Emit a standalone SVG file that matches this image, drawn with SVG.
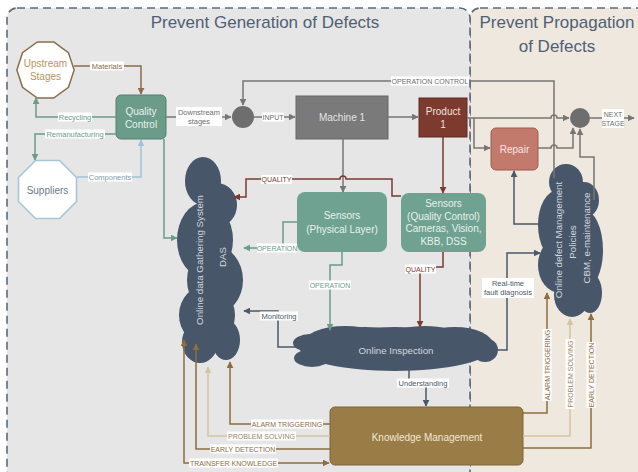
<svg xmlns="http://www.w3.org/2000/svg" width="638" height="472" viewBox="0 0 638 472">
  <style>
    text{font-family:"Liberation Sans",Arial,sans-serif}
    .title{font-size:17px;fill:#4e6074;text-anchor:middle}
    .nt{font-size:10px;text-anchor:middle;dominant-baseline:central}
    .ct{font-size:9.7px;fill:#d3d8de;text-anchor:middle;dominant-baseline:central}
    .ln{fill:none;stroke-width:1.5}
    .lb rect{fill:#ffffff}
    .lb text{font-size:7.5px;text-anchor:middle;dominant-baseline:central}
    .lb text.cap{font-size:7px}
    .g{stroke:#6b9c8a}.br{stroke:#8a6d4b}.bl{stroke:#9fc3d6}.gy{stroke:#767676}
    .dr{stroke:#7a3b30}.sl{stroke:#4b5867}.tn{stroke:#d6c3a2}.kb{stroke:#8c6d3f}
    .cloud{fill:#48566a}
  </style>
  <defs>
    <marker id="mg" viewBox="0 0 10 10" refX="9" refY="5" markerWidth="7" markerHeight="7" markerUnits="userSpaceOnUse" orient="auto-start-reverse"><path d="M0,0L10,5L0,10z" fill="#6b9c8a"/></marker>
    <marker id="mbr" viewBox="0 0 10 10" refX="9" refY="5" markerWidth="7" markerHeight="7" markerUnits="userSpaceOnUse" orient="auto-start-reverse"><path d="M0,0L10,5L0,10z" fill="#8a6d4b"/></marker>
    <marker id="mbl" viewBox="0 0 10 10" refX="9" refY="5" markerWidth="7" markerHeight="7" markerUnits="userSpaceOnUse" orient="auto-start-reverse"><path d="M0,0L10,5L0,10z" fill="#9fc3d6"/></marker>
    <marker id="mgy" viewBox="0 0 10 10" refX="9" refY="5" markerWidth="7" markerHeight="7" markerUnits="userSpaceOnUse" orient="auto-start-reverse"><path d="M0,0L10,5L0,10z" fill="#767676"/></marker>
    <marker id="mdr" viewBox="0 0 10 10" refX="9" refY="5" markerWidth="7" markerHeight="7" markerUnits="userSpaceOnUse" orient="auto-start-reverse"><path d="M0,0L10,5L0,10z" fill="#7a3b30"/></marker>
    <marker id="msl" viewBox="0 0 10 10" refX="9" refY="5" markerWidth="7" markerHeight="7" markerUnits="userSpaceOnUse" orient="auto-start-reverse"><path d="M0,0L10,5L0,10z" fill="#4b5867"/></marker>
    <marker id="mtn" viewBox="0 0 10 10" refX="9" refY="5" markerWidth="7" markerHeight="7" markerUnits="userSpaceOnUse" orient="auto-start-reverse"><path d="M0,0L10,5L0,10z" fill="#d6c3a2"/></marker>
    <marker id="mkb" viewBox="0 0 10 10" refX="9" refY="5" markerWidth="7" markerHeight="7" markerUnits="userSpaceOnUse" orient="auto-start-reverse"><path d="M0,0L10,5L0,10z" fill="#8c6d3f"/></marker>
  </defs>

  <rect width="638" height="472" fill="#ffffff"/>

  <!-- regions -->
  <g id="regions">
    <rect x="470" y="8" width="190" height="480" rx="10" fill="#efe8df" stroke="#5c6b78" stroke-width="1.6" stroke-dasharray="8 5"/>
    <rect x="7" y="8" width="463" height="480" rx="10" fill="#e6e6e6" stroke="#5c6b78" stroke-width="1.6" stroke-dasharray="8 5"/>
    <text class="title" x="265" y="28">Prevent Generation of Defects</text>
    <text class="title" x="557" y="28">Prevent Propagation</text>
    <text class="title" x="557" y="52">of Defects</text>
  </g>

  <!-- nodes -->
  <g id="upstream">
    <polygon points="54.3,41.5 70.2,53.1 76.3,71.7 70.2,90.3 54.3,101.9 36.7,101.9 20.8,90.3 14.7,71.7 20.8,53.1 36.7,41.5" transform="translate(45.5,70) scale(0.93) translate(-45.5,-71.7)" fill="#ffffff" stroke="#8a6d4b" stroke-width="1.6"/>
    <text class="nt" x="45.5" y="63" fill="#b8945a">Upstream</text>
    <text class="nt" x="45.5" y="76" fill="#b8945a">Stages</text>
  </g>
  <g id="suppliers">
    <polygon points="35.5,160.5 59.5,160.5 76.5,177.5 76.5,201.5 59.5,218.5 35.5,218.5 18.5,201.5 18.5,177.5" fill="#ffffff" stroke="#a6c6d6" stroke-width="1.6"/>
    <text class="nt" x="47.5" y="190" fill="#6b7a88">Suppliers</text>
  </g>
  <g id="quality-control">
    <rect x="116" y="95" width="50" height="44" rx="5" fill="#6a9c89" stroke="#557f70"/>
    <text class="nt" x="141" y="111" fill="#e8f1ed">Quality</text>
    <text class="nt" x="141" y="124" fill="#e8f1ed">Control</text>
  </g>
  <g id="input-junction">
    <circle cx="243" cy="117" r="11" fill="#6e6e6e"/>
  </g>
  <g id="machine-1">
    <rect x="296" y="96" width="92" height="43" fill="#7a7a7a" stroke="#666666"/>
    <text class="nt" x="342" y="117.5" fill="#e4e4e4">Machine 1</text>
  </g>
  <g id="product-1">
    <rect x="419" y="98" width="48" height="39" fill="#7d3a2f" stroke="#5e2a22"/>
    <text class="nt" x="443" y="111" fill="#f0e2de">Product</text>
    <text class="nt" x="443" y="124" fill="#f0e2de">1</text>
  </g>
  <g id="output-junction">
    <circle cx="580" cy="118" r="10" fill="#6e6e6e"/>
  </g>
  <g id="repair">
    <rect x="491" y="128" width="47" height="42" rx="5" fill="#c27a6c" stroke="#9e5b4f"/>
    <text class="nt" x="514.5" y="149" fill="#f6e6e2">Repair</text>
  </g>
  <g id="sensors-physical">
    <rect x="297" y="192" width="90" height="60" rx="8" fill="#6fa291"/>
    <text class="nt" x="342" y="215" fill="#e8f1ed">Sensors</text>
    <text class="nt" x="342" y="229" fill="#e8f1ed">(Physical Layer)</text>
  </g>
  <g id="sensors-quality">
    <rect x="401" y="193" width="85" height="59" rx="8" fill="#6fa291"/>
    <text class="nt" x="443.5" y="203.5" fill="#e8f1ed" font-size="9.5">Sensors</text>
    <text class="nt" x="443.5" y="216" fill="#e8f1ed" font-size="9.5">(Quality Control)</text>
    <text class="nt" x="443.5" y="228.5" fill="#e8f1ed" font-size="9.5">Cameras, Vision,</text>
    <text class="nt" x="443.5" y="241" fill="#e8f1ed" font-size="9.5">KBB, DSS</text>
  </g>
  <g id="das">
    <ellipse class="cloud" cx="203" cy="181" rx="18" ry="24"/>
    <ellipse class="cloud" cx="217" cy="205" rx="20" ry="22"/>
    <ellipse class="cloud" cx="205" cy="240" rx="28" ry="38"/>
    <ellipse class="cloud" cx="215" cy="280" rx="28" ry="34"/>
    <ellipse class="cloud" cx="207" cy="315" rx="28" ry="30"/>
    <ellipse class="cloud" cx="200" cy="342" rx="18" ry="21"/>
    <ellipse class="cloud" cx="226" cy="340" rx="14" ry="20"/>
    <text class="ct" transform="translate(199,260) rotate(-90)">Online data Gathering System</text>
    <text class="ct" transform="translate(222,257) rotate(-90)">DAS</text>
  </g>
  <g id="online-inspection">
    <ellipse class="cloud" cx="395" cy="349" rx="95" ry="22"/>
    <ellipse class="cloud" cx="345" cy="344" rx="42" ry="18"/>
    <ellipse class="cloud" cx="455" cy="345" rx="38" ry="18"/>
    <ellipse class="cloud" cx="365" cy="336" rx="30" ry="9"/>
    <ellipse class="cloud" cx="425" cy="335" rx="32" ry="9"/>
    <ellipse class="cloud" cx="310" cy="343" rx="17" ry="9"/>
    <ellipse class="cloud" cx="312" cy="358" rx="18" ry="9"/>
    <ellipse class="cloud" cx="485" cy="350" rx="13" ry="12"/>
    <text class="ct" x="396" y="350" font-size="10">Online Inspection</text>
  </g>
  <g id="defect-management">
    <ellipse class="cloud" cx="566" cy="182" rx="17" ry="18"/>
    <ellipse class="cloud" cx="584" cy="200" rx="15" ry="18"/>
    <ellipse class="cloud" cx="558" cy="225" rx="20" ry="35"/>
    <ellipse class="cloud" cx="584" cy="250" rx="19" ry="40"/>
    <ellipse class="cloud" cx="560" cy="265" rx="22" ry="28"/>
    <ellipse class="cloud" cx="572" cy="295" rx="18" ry="22"/>
    <ellipse class="cloud" cx="590" cy="293" rx="12" ry="20"/>
    <text class="ct" font-size="10" transform="translate(558,240) rotate(-90)">Online defect Management</text>
    <text class="ct" font-size="10" transform="translate(572,242) rotate(-90)">Policies</text>
    <text class="ct" font-size="10" transform="translate(586,238) rotate(-90)">CBM, e-maintenance</text>
  </g>
  <g id="knowledge-management">
    <rect x="330" y="407" width="193" height="58" rx="5" fill="#9a7c47" stroke="#7e6438"/>
    <text class="nt" x="427" y="437" fill="#f1e8d4">Knowledge Management</text>
  </g>

  <!-- connectors -->
  <g id="connectors">
    <path class="ln br" d="M74,66H141V94" marker-end="url(#mbr)"/>
    <path class="ln g" d="M116,117H36V98" marker-end="url(#mg)"/>
    <path class="ln g" d="M116,134H35V160" marker-end="url(#mg)"/>
    <path class="ln bl" d="M77,177H141V140" marker-end="url(#mbl)"/>
    <path class="ln g" d="M164,139V238H177" marker-end="url(#mg)"/>
    <path class="ln gy" d="M166,117H231" marker-end="url(#mgy)"/>
    <path class="ln gy" d="M254,117H295" marker-end="url(#mgy)"/>
    <path class="ln gy" d="M388,117H418" marker-end="url(#mgy)"/>
    <path class="ln gy" d="M554,178V81H243V105" marker-end="url(#mgy)"/>
    <path class="ln gy" d="M467,118H551a3,3 0 0 1 6,0H569" marker-end="url(#mgy)"/>
    <path class="ln gy" d="M474,118V148H490" marker-end="url(#mgy)"/>
    <path class="ln gy" d="M538,148H551a3,3 0 0 1 6,0H573V128" marker-end="url(#mgy)"/>
    <path class="ln gy" d="M594,200V157H580V129" marker-end="url(#mgy)"/>
    <path class="ln gy" d="M590,118H634" marker-end="url(#mgy)"/>
    <path class="ln gy" d="M343,139V192" marker-end="url(#mgy)"/>
    <path class="ln dr" d="M443,137V193" marker-end="url(#mdr)"/>
    <path class="ln dr" d="M401,196H392V179H346a3,3 0 0 0 -6,0H246V197H234" marker-end="url(#mdr)"/>
    <path class="ln g" d="M297,222H283V248H244" marker-end="url(#mg)"/>
    <path class="ln g" d="M342,252V265H330V330" marker-end="url(#mg)"/>
    <path class="ln dr" d="M443,252V267H420V327" marker-end="url(#mdr)"/>
    <path class="ln sl" d="M296,347H278V311H244" marker-end="url(#msl)"/>
    <path class="ln sl" d="M409,368V383H426V406" marker-end="url(#msl)"/>
    <path class="ln sl" d="M496,350H507V253H540" marker-end="url(#msl)"/>
    <path class="ln sl" d="M540,224H514V171" marker-end="url(#msl)"/>
    <path class="ln kb" d="M523,413H547V293" marker-end="url(#mkb)"/>
    <path class="ln tn" d="M523,436H570V319" marker-end="url(#mtn)"/>
    <path class="ln kb" d="M523,448H591V314" marker-end="url(#mkb)"/>
    <path class="ln kb" d="M330,424H230V362" marker-end="url(#mkb)"/>
    <path class="ln tn" d="M330,436H208V367" marker-end="url(#mtn)"/>
    <path class="ln kb" d="M330,449H196V344" marker-end="url(#mkb)"/>
    <path class="ln kb" d="M184,340V463H329" marker-start="url(#mkb)" marker-end="url(#mkb)"/>

    <g class="lb">
      <rect x="90" y="61.5" width="34" height="9"/><text x="107" y="66" fill="#8a6d4b">Materials</text>
      <rect x="58" y="112.5" width="34" height="9"/><text x="75" y="117" fill="#6b9c8a">Recycling</text>
      <rect x="45" y="129.5" width="60" height="9"/><text x="75" y="134" fill="#6b9c8a">Remanufacturing</text>
      <rect x="88" y="172.5" width="44" height="9"/><text x="110" y="177" fill="#7f9cad">Components</text>
      <rect x="176" y="107" width="46" height="19"/><text x="199" y="112.5" fill="#6e6e6e">Downstream</text><text x="199" y="121" fill="#6e6e6e">stages</text>
      <rect x="262" y="112.5" width="22" height="9"/><text class="cap" x="273" y="117" fill="#6e6e6e">INPUT</text>
      <rect x="391" y="76.5" width="78" height="9"/><text class="cap" x="430" y="81" fill="#6e6e6e">OPERATION CONTROL</text>
      <rect x="602" y="109" width="22" height="19"/><text class="cap" x="613" y="114" fill="#6e6e6e">NEXT</text><text class="cap" x="613" y="123" fill="#6e6e6e">STAGE</text>
      <rect x="261" y="175" width="31" height="9"/><text class="cap" x="276.5" y="179.5" fill="#7a3b30">QUALITY</text>
      <rect x="257" y="243.5" width="40" height="9"/><text class="cap" x="277" y="248" fill="#6b9c8a">OPERATION</text>
      <rect x="309" y="280.5" width="42" height="9"/><text class="cap" x="330" y="285" fill="#6b9c8a">OPERATION</text>
      <rect x="405" y="264.5" width="31" height="9"/><text class="cap" x="420.5" y="269" fill="#7a3b30">QUALITY</text>
      <rect x="260" y="311.5" width="38" height="9"/><text x="279" y="316" fill="#4b5867">Monitoring</text>
      <rect x="482" y="278" width="52" height="20"/><text x="508" y="283.5" fill="#4b5867">Real-time</text><text x="508" y="292.5" fill="#4b5867">fault diagnosis</text>
      <rect x="397" y="378.5" width="52" height="9"/><text x="423" y="383" fill="#4b5867">Understanding</text>
      <rect x="251" y="419.5" width="72" height="9"/><text class="cap" x="287" y="424" fill="#8c6d3f">ALARM TRIGGERING</text>
      <rect x="227" y="431.5" width="69" height="9"/><text class="cap" x="261.5" y="436" fill="#9a8466">PROBLEM SOLVING</text>
      <rect x="210" y="444.5" width="66" height="9"/><text class="cap" x="243" y="449" fill="#8c6d3f">EARLY DETECTION</text>
      <rect x="189" y="458.5" width="89" height="9"/><text class="cap" x="233.5" y="463" fill="#8c6d3f">TRAINSFER KNOWLEDGE</text>
      <g transform="translate(547,365) rotate(-90)"><rect x="-36" y="-4.5" width="72" height="9"/><text class="cap" x="0" y="0" fill="#8c6d3f">ALARM TRIGGERING</text></g>
      <g transform="translate(570,374) rotate(-90)"><rect x="-35" y="-4.5" width="70" height="9"/><text class="cap" x="0" y="0" fill="#9a8466">PROBLEM SOLVING</text></g>
      <g transform="translate(591,375) rotate(-90)"><rect x="-33" y="-4.5" width="66" height="9"/><text class="cap" x="0" y="0" fill="#8c6d3f">EARLY DETECTION</text></g>
    </g>
  </g>
</svg>
